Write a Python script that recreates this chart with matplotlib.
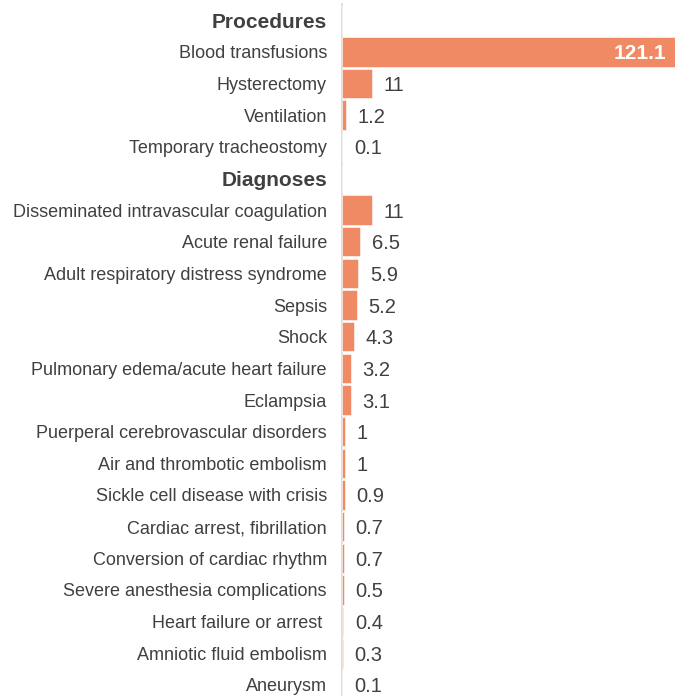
import numpy as np
import matplotlib.pyplot as plt

plt.rcParams['font.family'] = ['Liberation Sans', 'DejaVu Sans']

procedures = ['Blood transfusions', 'Hysterectomy', 'Ventilation', 'Temporary tracheostomy']
procedure_vals = [121.1, 11, 1.2, 0.1]
diagnoses = ['Disseminated intravascular coagulation', 'Acute renal failure',
             'Adult respiratory distress syndrome', 'Sepsis', 'Shock',
             'Pulmonary edema/acute heart failure', 'Eclampsia',
             'Puerperal cerebrovascular disorders', 'Air and thrombotic embolism',
             'Sickle cell disease with crisis', 'Cardiac arrest, fibrillation',
             'Conversion of cardiac rhythm', 'Severe anesthesia complications',
             'Heart failure or arrest ', 'Amniotic fluid embolism', 'Aneurysm']
diagnosis_vals = [11, 6.5, 5.9, 5.2, 4.3, 3.2, 3.1, 1, 1, 0.9, 0.7, 0.7, 0.5, 0.4, 0.3, 0.1]

labels = ['Procedures'] + procedures + ['Diagnoses'] + diagnoses
values = [np.nan] + procedure_vals + [np.nan] + diagnosis_vals
headers = {'Procedures', 'Diagnoses'}

bar_color = '#F08A65'
text_color = '#404040'

fig = plt.figure(figsize=(6.75, 6.96), dpi=100)
ax = fig.add_axes([0.507, 0.0, 0.493, 0.994])

y = np.arange(len(labels))
vals = np.nan_to_num(np.array(values, dtype=float))
ax.barh(y, vals, height=0.93, color=bar_color, edgecolor='white', linewidth=0.4)

xmax = max(procedure_vals)
ax.set_xlim(0, xmax)
ax.set_ylim(len(labels) - 0.65, -0.505)

ax.set_yticks(y)
ax.set_yticklabels(labels)
for t, lab in zip(ax.get_yticklabels(), labels):
    if lab in headers:
        t.set_fontweight('bold')
        t.set_fontsize(15)
    else:
        t.set_fontsize(13)
    t.set_color(text_color)
ax.tick_params(axis='y', length=0, pad=11)
ax.set_xticks([])

for s in ['top', 'right', 'bottom']:
    ax.spines[s].set_visible(False)
ax.spines['left'].set_color('#D9D9D9')
ax.spines['left'].set_linewidth(1.2)
ax.spines['left'].set_zorder(0)

for yi, v in zip(y, values):
    if np.isnan(v):
        continue
    lab = f'{v:g}'
    if v > 0.5 * xmax:
        ax.text(v - 3.2, yi, lab, ha='right', va='center_baseline', color='white',
                fontsize=15, fontweight='bold')
    else:
        ax.text(v + 4.2, yi, lab, ha='left', va='center_baseline', color=text_color,
                fontsize=14.5)

fig.savefig('out.png', dpi=100)
